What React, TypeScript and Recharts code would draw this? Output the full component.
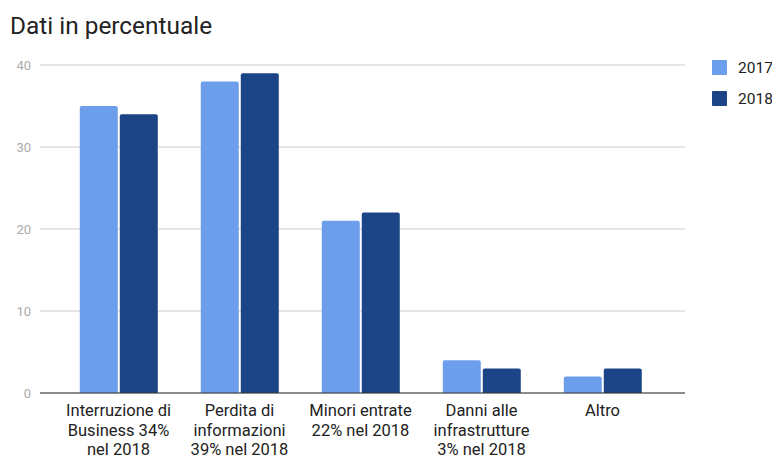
import React from 'react'
import { BarChart, Bar, XAxis, YAxis, CartesianGrid } from 'recharts'

const categories = [
  'Interruzione di\nBusiness 34%\nnel 2018',
  'Perdita di\ninformazioni\n39% nel 2018',
  'Minori entrate\n22% nel 2018',
  'Danni alle\ninfrastrutture\n3% nel 2018',
  'Altro',
]
const values2017 = [35, 38, 21, 4, 2]
const values2018 = [34, 39, 22, 3, 3]
const yTicks = [0, 10, 20, 30, 40]

const data = categories.map((name, i) => ({ name, y2017: values2017[i], y2018: values2018[i] }))

const font = 'Roboto, "Noto Sans", sans-serif'

function CategoryTick(props: any) {
  const { x, payload } = props
  const lines = String(payload.value).split('\n')
  return (
    <g transform={`translate(${x},393)`}>
      {lines.map((line, i) => (
        <text key={i} x={0} y={23 + i * 19.5} textAnchor="middle" fill="#222" fontSize={16.5} fontFamily={font}>
          {line}
        </text>
      ))}
    </g>
  )
}

function LegendBox() {
  const items = [
    { label: '2017', color: '#6d9eeb' },
    { label: '2018', color: '#1c4587' },
  ]
  return (
    <div style={{ position: 'absolute', left: 712, top: 52, fontFamily: font }}>
      {items.map(it => (
        <div key={it.label} style={{ display: 'flex', alignItems: 'center', height: 31 }}>
          <div style={{ width: 15, height: 15, background: it.color, borderRadius: 1, marginRight: 11 }} />
          <span style={{ fontSize: 15.5, color: '#222' }}>{it.label}</span>
        </div>
      ))}
    </div>
  )
}

export default function App() {
  return (
    <div style={{ position: 'absolute', top: 0, left: 0, width: 772, height: 459, background: '#fff' }}>
      <div style={{ position: 'absolute', left: 10, top: 10, fontFamily: font, fontSize: 24.4, color: '#222', lineHeight: '32px' }}>
        Dati in percentuale
      </div>
      <BarChart
        width={772}
        height={459}
        data={data}
        margin={{ top: 65, right: 87, bottom: 0, left: 0 }}
        barCategoryGap="18%"
        barGap={2}
      >
        <CartesianGrid vertical={false} stroke="#cccccc" />
        <XAxis
          dataKey="name"
          height={66}
          tick={<CategoryTick />}
          tickLine={false}
          axisLine={{ stroke: '#333' }}
          interval={0}
          padding={{ left: 18, right: 22 }}
        />
        <YAxis
          width={40}
          domain={[0, 40]}
          ticks={yTicks}
          tickLine={false}
          axisLine={false}
          tickSize={0}
          tickMargin={9}
          tick={{ fill: '#aaaaaa', fontSize: 13, fontFamily: font }}
        />
        <Bar dataKey="y2017" name="2017" fill="#6d9eeb" radius={[2, 2, 0, 0]} isAnimationActive={false} />
        <Bar dataKey="y2018" name="2018" fill="#1c4587" radius={[2, 2, 0, 0]} isAnimationActive={false} />
      </BarChart>
      <LegendBox />
    </div>
  )
}
